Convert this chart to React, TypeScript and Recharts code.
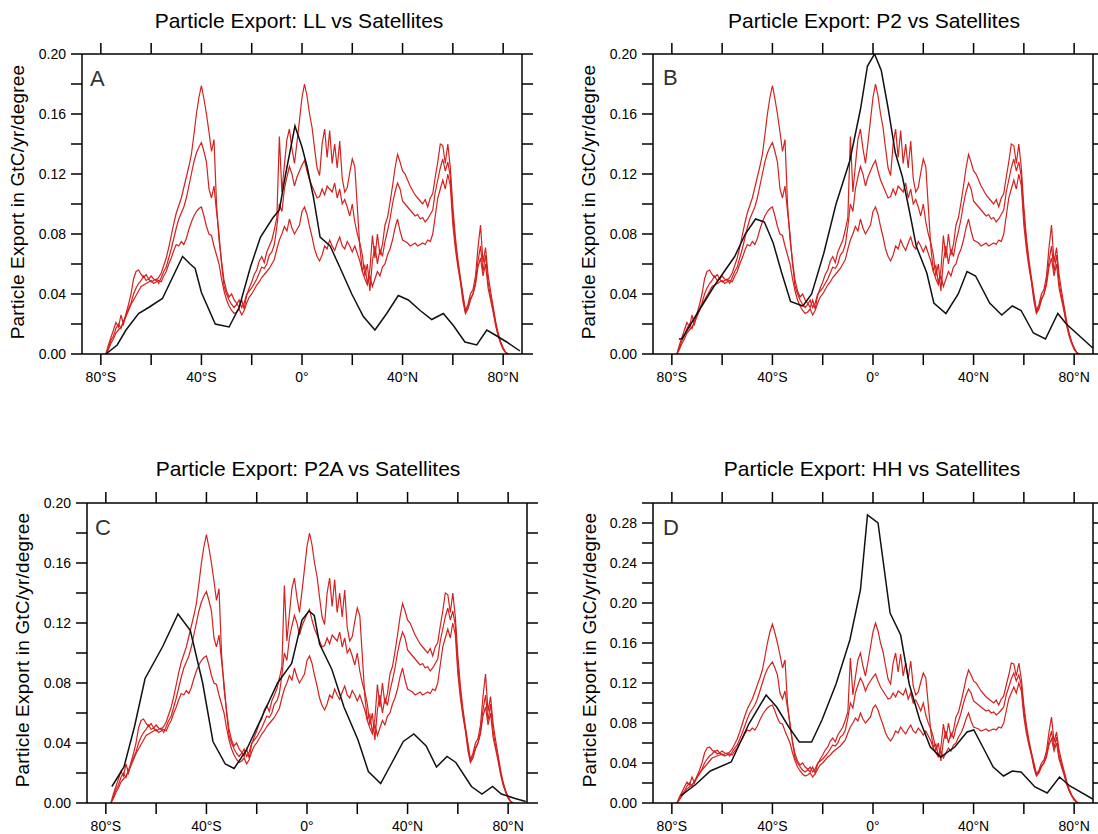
import React from 'react';
import { LineChart, Line, XAxis, YAxis } from 'recharts';

// Satellite estimates (same in all four panels), 1° latitude bands
const satLat = [
  -78, -77, -76, -75, -74, -73, -72, -71, -70, -69,
  -68, -67, -66, -65, -64, -63, -62, -61, -60, -59,
  -58, -57, -56, -55, -54, -53, -52, -51, -50, -49,
  -48, -47, -46, -45, -44, -43, -42, -41, -40, -39,
  -38, -37, -36, -35, -34, -33, -32, -31, -30, -29,
  -28, -27, -26, -25, -24, -23, -22, -21, -20, -19,
  -18, -17, -16, -15, -14, -13, -12, -11, -10, -9,
  -8, -7, -6, -5, -4, -3, -2, -1, 0, 1,
  2, 3, 4, 5, 6, 7, 8, 9, 10, 11,
  12, 13, 14, 15, 16, 17, 18, 19, 20, 21,
  22, 23, 24, 25, 26, 27, 28, 29, 30, 31,
  32, 33, 34, 35, 36, 37, 38, 39, 40, 41,
  42, 43, 44, 45, 46, 47, 48, 49, 50, 51,
  52, 53, 54, 55, 56, 57, 58, 59, 60, 61,
  62, 63, 64, 65, 66, 67, 68, 69, 70, 71,
  72, 73, 74, 75, 76, 77, 78, 79, 80, 81,
  82,
];

const satHigh = [
  0.000, 0.006, 0.011, 0.016, 0.021, 0.018, 0.026, 0.020, 0.027, 0.033,
  0.040, 0.050, 0.055, 0.056, 0.053, 0.051, 0.053, 0.050, 0.052, 0.050,
  0.049, 0.051, 0.054, 0.059, 0.064, 0.071, 0.079, 0.087, 0.094, 0.099,
  0.104, 0.111, 0.118, 0.125, 0.133, 0.146, 0.160, 0.171, 0.179, 0.170,
  0.160, 0.148, 0.135, 0.143, 0.100, 0.076, 0.062, 0.049, 0.042, 0.038,
  0.040, 0.036, 0.034, 0.031, 0.036, 0.030, 0.039, 0.044, 0.048, 0.053,
  0.056, 0.062, 0.065, 0.061, 0.068, 0.072, 0.076, 0.083, 0.091, 0.145,
  0.108, 0.126, 0.143, 0.150, 0.137, 0.127, 0.141, 0.156, 0.171, 0.180,
  0.172, 0.160, 0.151, 0.137, 0.124, 0.119, 0.140, 0.150, 0.131, 0.149,
  0.127, 0.140, 0.124, 0.142, 0.117, 0.108, 0.111, 0.121, 0.130, 0.125,
  0.098, 0.071, 0.056, 0.059, 0.047, 0.056, 0.079, 0.064, 0.080, 0.066,
  0.073, 0.086, 0.091, 0.101, 0.112, 0.124, 0.133, 0.128, 0.122, 0.120,
  0.116, 0.112, 0.109, 0.106, 0.104, 0.102, 0.100, 0.103, 0.098, 0.104,
  0.107, 0.118, 0.128, 0.140, 0.139, 0.127, 0.140, 0.124, 0.098, 0.078,
  0.063, 0.051, 0.040, 0.029, 0.033, 0.040, 0.043, 0.052, 0.071, 0.086,
  0.061, 0.071, 0.053, 0.042, 0.032, 0.022, 0.014, 0.008, 0.004, 0.001,
  0.000,
];

const satMid = [
  0.000, 0.004, 0.009, 0.012, 0.017, 0.020, 0.017, 0.022, 0.026, 0.030,
  0.034, 0.040, 0.044, 0.047, 0.049, 0.052, 0.049, 0.050, 0.048, 0.049,
  0.050, 0.047, 0.051, 0.055, 0.058, 0.064, 0.070, 0.077, 0.084, 0.090,
  0.094, 0.098, 0.104, 0.112, 0.120, 0.128, 0.134, 0.138, 0.141, 0.135,
  0.128, 0.110, 0.104, 0.112, 0.095, 0.080, 0.060, 0.045, 0.040, 0.036,
  0.033, 0.031, 0.033, 0.036, 0.031, 0.034, 0.040, 0.042, 0.044, 0.047,
  0.050, 0.054, 0.058, 0.057, 0.060, 0.066, 0.068, 0.073, 0.085, 0.100,
  0.095, 0.110, 0.118, 0.125, 0.120, 0.112, 0.118, 0.122, 0.126, 0.129,
  0.122, 0.116, 0.112, 0.108, 0.104, 0.105, 0.110, 0.106, 0.112, 0.110,
  0.108, 0.114, 0.104, 0.110, 0.100, 0.103, 0.098, 0.092, 0.100, 0.088,
  0.080, 0.074, 0.066, 0.052, 0.060, 0.042, 0.062, 0.072, 0.060, 0.070,
  0.065, 0.075, 0.082, 0.090, 0.100, 0.108, 0.114, 0.110, 0.102, 0.100,
  0.098, 0.096, 0.094, 0.092, 0.093, 0.090, 0.091, 0.088, 0.090, 0.093,
  0.096, 0.108, 0.116, 0.124, 0.130, 0.122, 0.128, 0.118, 0.092, 0.074,
  0.060, 0.049, 0.038, 0.028, 0.031, 0.037, 0.040, 0.048, 0.062, 0.072,
  0.055, 0.066, 0.048, 0.038, 0.030, 0.020, 0.013, 0.008, 0.004, 0.001,
  0.000,
];

const satLow = [
  0.000, 0.003, 0.007, 0.010, 0.014, 0.016, 0.018, 0.021, 0.025, 0.029,
  0.033, 0.036, 0.039, 0.042, 0.045, 0.046, 0.047, 0.048, 0.049, 0.047,
  0.048, 0.049, 0.048, 0.052, 0.055, 0.060, 0.064, 0.069, 0.073, 0.072,
  0.075, 0.073, 0.077, 0.083, 0.088, 0.092, 0.095, 0.097, 0.098, 0.092,
  0.085, 0.080, 0.079, 0.072, 0.066, 0.060, 0.050, 0.042, 0.036, 0.032,
  0.029, 0.027, 0.028, 0.030, 0.026, 0.029, 0.034, 0.038, 0.040, 0.043,
  0.046, 0.048, 0.051, 0.053, 0.055, 0.057, 0.060, 0.063, 0.070, 0.076,
  0.080, 0.085, 0.082, 0.090, 0.084, 0.080, 0.083, 0.086, 0.095, 0.098,
  0.093, 0.085, 0.078, 0.070, 0.065, 0.062, 0.066, 0.072, 0.070, 0.076,
  0.072, 0.069, 0.074, 0.078, 0.072, 0.070, 0.075, 0.072, 0.068, 0.072,
  0.067, 0.062, 0.055, 0.050, 0.046, 0.052, 0.045, 0.050, 0.055, 0.052,
  0.058, 0.060, 0.066, 0.070, 0.076, 0.084, 0.090, 0.082, 0.076, 0.075,
  0.074, 0.072, 0.073, 0.074, 0.072, 0.073, 0.074, 0.073, 0.076, 0.075,
  0.080, 0.092, 0.104, 0.110, 0.116, 0.110, 0.120, 0.112, 0.086, 0.070,
  0.058, 0.048, 0.035, 0.027, 0.030, 0.036, 0.040, 0.046, 0.058, 0.064,
  0.052, 0.060, 0.044, 0.036, 0.028, 0.019, 0.012, 0.007, 0.003, 0.001,
  0.000,
];

// Model curves (black)
const llLat = [-78, -73.5, -70, -65, -61, -55.5, -51.5, -47.5, -44.5, -42.5, -40, -34.5, -29, -25, -20.5, -16.5, -11.5, -9, -6.5, -2.8, 0, 2, 4.5, 7.2, 11.2, 15, 19.8, 24.4, 29, 33.7, 38.3, 42.3, 47, 51.6, 56.2, 60.2, 64.8, 69.5, 73.5, 77.5, 81.4, 86.7];
const llVal = [0.000, 0.006, 0.016, 0.027, 0.031, 0.037, 0.051, 0.065, 0.060, 0.057, 0.041, 0.020, 0.018, 0.031, 0.058, 0.078, 0.091, 0.096, 0.120, 0.152, 0.138, 0.125, 0.105, 0.078, 0.072, 0.058, 0.040, 0.025, 0.016, 0.027, 0.039, 0.036, 0.029, 0.023, 0.027, 0.019, 0.008, 0.006, 0.016, 0.012, 0.008, 0.002];

const p2Lat = [-77.2, -76, -70.3, -63.3, -55, -50.8, -46.7, -43.2, -39.7, -36.3, -32.8, -27.9, -24.4, -19.6, -14.7, -9.2, -5, -2.2, 0.6, 3.3, 6.1, 8.9, 11.7, 14.4, 17.2, 21.4, 24.2, 29, 33.9, 37.4, 40.8, 46.4, 51.2, 55.4, 58.9, 63.8, 68.6, 73.5, 76.9, 87.4];
const p2Val = [0.010, 0.010, 0.026, 0.045, 0.065, 0.080, 0.090, 0.088, 0.074, 0.054, 0.035, 0.032, 0.040, 0.067, 0.100, 0.129, 0.163, 0.192, 0.200, 0.189, 0.163, 0.134, 0.118, 0.096, 0.072, 0.054, 0.034, 0.027, 0.040, 0.055, 0.052, 0.034, 0.026, 0.032, 0.029, 0.014, 0.010, 0.027, 0.020, 0.004];

const p2aLat = [-77.6, -72.8, -68.6, -64.4, -57.5, -51.3, -46.4, -41.5, -37.4, -32.5, -29, -24.2, -18.6, -11.7, -6.1, -2, 0.8, 2.9, 5, 9.9, 14.7, 20.3, 24.4, 29.3, 33.5, 38.3, 42.5, 47.4, 51.5, 55.7, 59.2, 65.4, 69.6, 73.8, 77.3, 82.8, 87];
const p2aVal = [0.011, 0.024, 0.051, 0.083, 0.104, 0.126, 0.115, 0.080, 0.041, 0.026, 0.023, 0.035, 0.055, 0.080, 0.093, 0.122, 0.128, 0.125, 0.106, 0.089, 0.064, 0.042, 0.021, 0.013, 0.026, 0.041, 0.046, 0.038, 0.024, 0.031, 0.027, 0.011, 0.006, 0.011, 0.006, 0.003, 0.001];

const hhLat = [-76.5, -70.3, -64.7, -56.4, -49.4, -42.5, -38.3, -33.5, -29.3, -24.4, -20.3, -14.7, -9.2, -5, -2.2, 2, 6.8, 11, 14.4, 18.6, 22.8, 26.9, 32.5, 37.4, 40.1, 44.3, 47.8, 51.9, 55.4, 58.9, 64.4, 69.3, 74.2, 78.3, 87.4];
const hhVal = [0.007, 0.019, 0.032, 0.041, 0.079, 0.108, 0.096, 0.076, 0.061, 0.061, 0.083, 0.119, 0.163, 0.213, 0.288, 0.280, 0.190, 0.168, 0.119, 0.083, 0.056, 0.046, 0.056, 0.071, 0.073, 0.053, 0.036, 0.027, 0.032, 0.031, 0.016, 0.010, 0.026, 0.017, 0.004];

const latTicks = [-80, -60, -40, -20, 0, 20, 40, 60, 80];
const yTicks20 = [0, 0.02, 0.04, 0.06, 0.08, 0.1, 0.12, 0.14, 0.16, 0.18, 0.2];
const yTicks30 = [0, 0.02, 0.04, 0.06, 0.08, 0.1, 0.12, 0.14, 0.16, 0.18, 0.2, 0.22, 0.24, 0.26, 0.28, 0.3];

const FONT = '"Liberation Sans", Arial, Helvetica, sans-serif';
const RED = '#d3211f';

type Pt = { lat: number; v: number };
const toPts = (lats: number[], vals: number[]): Pt[] => lats.map((lat, i) => ({ lat, v: vals[i] }));

const satHighPts = toPts(satLat, satHigh);
const satMidPts = toPts(satLat, satMid);
const satLowPts = toPts(satLat, satLow);

const fmtLat = (v: number) => {
  if (v === 0) return '0°';
  if (Math.abs(v) % 40 !== 0) return '';
  return `${Math.abs(v)}°${v < 0 ? 'S' : 'N'}`;
};
const fmtY = (v: number) => (Math.round(v * 100) % 4 === 0 ? v.toFixed(2) : '');
const blank = () => '';

const PW = 440;
const PH = 300;
const YL = 60;
const YR = 14;
const XT = 14;
const XB = 40;

const axisStyle = { stroke: '#000', strokeWidth: 1.5 };

type PanelProps = {
  left: number;
  top: number;
  yMax: number;
  yTicks: number[];
  model: Pt[];
};

function Panel({ left, top, yMax, yTicks, model }: PanelProps) {
  return (
    <div style={{ position: 'absolute', left: left - YL, top: top - XT }}>
      <LineChart width={PW + YL + YR} height={PH + XT + XB} margin={{ top: 0, right: 0, bottom: 0, left: 0 }}>
        <XAxis
          xAxisId="b"
          orientation="bottom"
          type="number"
          dataKey="lat"
          domain={[-87.5, 87.5]}
          allowDataOverflow
          ticks={latTicks}
          interval={0}
          tickFormatter={fmtLat}
          height={XB}
          tickSize={11}
          tickMargin={7}
          axisLine={axisStyle}
          tickLine={axisStyle}
          tick={{ fill: '#000', fontSize: 14, fontFamily: FONT }}
        />
        <XAxis
          xAxisId="t"
          orientation="top"
          type="number"
          dataKey="lat"
          domain={[-87.5, 87.5]}
          allowDataOverflow
          ticks={latTicks}
          interval={0}
          tickFormatter={blank}
          height={XT}
          tickSize={11}
          axisLine={axisStyle}
          tickLine={axisStyle}
        />
        <YAxis
          yAxisId="l"
          orientation="left"
          type="number"
          domain={[0, yMax]}
          allowDataOverflow
          ticks={yTicks}
          interval={0}
          tickFormatter={fmtY}
          width={YL}
          tickSize={11}
          tickMargin={5}
          axisLine={axisStyle}
          tickLine={axisStyle}
          tick={{ fill: '#000', fontSize: 14, fontFamily: FONT }}
        />
        <YAxis
          yAxisId="r"
          orientation="right"
          type="number"
          domain={[0, yMax]}
          allowDataOverflow
          ticks={yTicks}
          interval={0}
          tickFormatter={blank}
          width={YR}
          tickSize={11}
          axisLine={axisStyle}
          tickLine={axisStyle}
        />
        <Line xAxisId="b" yAxisId="l" data={satHighPts} dataKey="v" type="linear" stroke={RED} strokeWidth={1.2} dot={false} activeDot={false} isAnimationActive={false} />
        <Line xAxisId="b" yAxisId="l" data={satMidPts} dataKey="v" type="linear" stroke={RED} strokeWidth={1.2} dot={false} activeDot={false} isAnimationActive={false} />
        <Line xAxisId="b" yAxisId="l" data={satLowPts} dataKey="v" type="linear" stroke={RED} strokeWidth={1.2} dot={false} activeDot={false} isAnimationActive={false} />
        <Line xAxisId="b" yAxisId="l" data={model} dataKey="v" type="linear" stroke="#111" strokeWidth={1.5} dot={false} activeDot={false} isAnimationActive={false} />
      </LineChart>
    </div>
  );
}

const panels = [
  { key: 'A', left: 82, top: 54, yMax: 0.2, yTicks: yTicks20, model: toPts(llLat, llVal), title: 'Particle Export: LL vs Satellites', tx: 299, ty: 28, lx: 24, ly: 202, letterX: 90, letterY: 86 },
  { key: 'B', left: 653, top: 54, yMax: 0.2, yTicks: yTicks20, model: toPts(p2Lat, p2Val), title: 'Particle Export: P2 vs Satellites', tx: 874, ty: 28, lx: 595, ly: 202, letterX: 663, letterY: 85 },
  { key: 'C', left: 87, top: 503, yMax: 0.2, yTicks: yTicks20, model: toPts(p2aLat, p2aVal), title: 'Particle Export: P2A vs Satellites', tx: 308, ty: 476, lx: 29, ly: 650, letterX: 95, letterY: 535 },
  { key: 'D', left: 653, top: 503, yMax: 0.3, yTicks: yTicks30, model: toPts(hhLat, hhVal), title: 'Particle Export: HH vs Satellites', tx: 872, ty: 476, lx: 596, ly: 650, letterX: 663, letterY: 535 },
];

export default function App() {
  return (
    <div style={{ position: 'absolute', left: 0, top: 0, width: 1098, height: 834, overflow: 'hidden', background: '#fff', fontFamily: FONT }}>
      {panels.map((p) => (
        <Panel key={p.key} left={p.left} top={p.top} yMax={p.yMax} yTicks={p.yTicks} model={p.model} />
      ))}
      <svg width={1098} height={834} style={{ position: 'absolute', left: 0, top: 0, pointerEvents: 'none' }}>
        {panels.map((p) => (
          <g key={p.key}>
            <text x={p.tx} y={p.ty} textAnchor="middle" fontSize={21} fontFamily={FONT} fill="#000">{p.title}</text>
            <text x={p.lx} y={p.ly} textAnchor="middle" fontSize={19} letterSpacing={0.2} fontFamily={FONT} fill="#000" transform={`rotate(-90 ${p.lx} ${p.ly})`}>Particle Export in GtC/yr/degree</text>
            <text x={p.letterX} y={p.letterY} fontSize={22} fontFamily={FONT} fill="#333" fontWeight={300}>{p.key}</text>
          </g>
        ))}
      </svg>
    </div>
  );
}
